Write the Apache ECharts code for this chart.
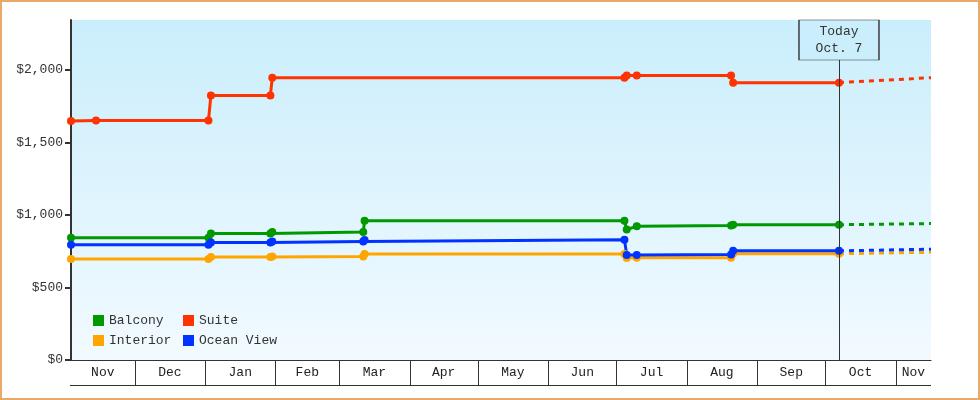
<!DOCTYPE html>
<html><head><meta charset="utf-8">
<script src="https://cdn.jsdelivr.net/npm/echarts@6/dist/echarts.min.js"></script>
<style>
html,body{margin:0;padding:0;background:#fff;}
#wrap{position:relative;width:980px;height:400px;}
#chart{position:absolute;left:0;top:0;width:980px;height:400px;}
#frame{position:absolute;left:0;top:0;width:980px;height:400px;box-sizing:border-box;border:2px solid #e8aa6a;pointer-events:none;}
</style></head><body>
<div id="wrap"><div id="chart"></div><div id="frame"></div></div>
<script>
// ---- data ----
const obsTimes = ['2022-11-03 00:00', '2022-11-14 00:00', '2023-01-02 12:00', '2023-01-03 14:00', '2023-01-29 18:00', '2023-01-30 14:00', '2023-03-11 15:00', '2023-03-12 05:00', '2023-07-04 14:00', '2023-07-05 14:00', '2023-07-10 00:00', '2023-08-20 12:00', '2023-08-21 10:00', '2023-10-07 00:00'];
const balcony   = [843, null, 843, 872, 872, 883, 883, 961, 961, 900, 922, 928, 933, 933];
const suite     = [1648, 1652, 1652, 1825, 1825, 1947, null, null, 1947, 1963, 1963, 1963, 1913, 1913];
const interior  = [697, null, 697, 710, 710, 714, 714, 731, 731, 703, 705, 705, 733, 733];
const oceanView = [795, null, 795, 811, 811, 818, 818, 828, 829, 725, 725, 727, 753, 753];
const forecastTimes = ['2023-10-07 00:00', '2023-11-16 12:00'];
const balconyForecast   = [933, 941];
const suiteForecast     = [1913, 1947];
const interiorForecast  = [733, 743];
const oceanViewForecast = [753, 764];
const monthStarts = ['2022-11-01', '2022-12-01', '2023-01-01', '2023-02-01', '2023-03-01', '2023-04-01', '2023-05-01', '2023-06-01', '2023-07-01', '2023-08-01', '2023-09-01', '2023-10-01', '2023-11-01', '2023-12-01'];
const monthLabels = ['Nov', 'Dec', 'Jan', 'Feb', 'Mar', 'Apr', 'May', 'Jun', 'Jul', 'Aug', 'Sep', 'Oct', 'Nov'];
const yTicks = [0, 500, 1000, 1500, 2000];
const xMin = '2022-11-03 00:00';
const xMax = '2023-11-16 12:00';
const yMax = 2345;
const todayDate = '2023-10-07 00:00';
const todayText = 'Today\nOct. 7';

// ---- chart ----
const FONT = '"Liberation Mono", "DejaVu Sans Mono", monospace';
const colors = {Balcony: '#009900', Suite: '#ff3300', Interior: '#ffa500', 'Ocean View': '#0033ff'};

function pairs(times, vals) {
  const out = [];
  vals.forEach((v, i) => { if (v !== null) out.push([times[i], v]); });
  return out;
}
function mainSeries(name, vals, z) {
  return {
    name, type: 'line', data: pairs(obsTimes, vals), z,
    symbol: 'circle', symbolSize: 8, showSymbol: true,
    lineStyle: {width: 3, color: colors[name]},
    itemStyle: {color: colors[name]},
    emphasis: {disabled: true}
  };
}
function forecastSeries(name, vals, z) {
  return {
    name, type: 'line', data: pairs(forecastTimes, vals), z,
    symbol: 'none', showSymbol: false,
    lineStyle: {width: 3, color: colors[name], type: [5, 5]},
    itemStyle: {color: colors[name]},
    emphasis: {disabled: true}
  };
}

const monthData = monthLabels.map((l, i) => [monthStarts[i], monthStarts[i + 1], 0, i]);

const chart = echarts.init(document.getElementById('chart'), null, {renderer: 'canvas'});
const option = {
  animation: false,
  grid: {
    left: 71, right: 49, top: 20, bottom: 40, show: true, borderWidth: 0,
    backgroundColor: {type: 'linear', x: 0, y: 0, x2: 0, y2: 1,
      colorStops: [{offset: 0, color: '#caeefc'}, {offset: 1, color: '#f2faff'}]}
  },
  legend: [
    {data: ['Balcony', 'Interior'], orient: 'vertical', left: 93, top: 314, padding: 0,
     itemWidth: 11, itemHeight: 11, itemGap: 7, icon: 'rect', selectedMode: false,
     textStyle: {fontFamily: FONT, fontSize: 13, color: '#333', lineHeight: 13}},
    {data: ['Suite', 'Ocean View'], orient: 'vertical', left: 183, top: 314, padding: 0,
     itemWidth: 11, itemHeight: 11, itemGap: 7, icon: 'rect', selectedMode: false,
     textStyle: {fontFamily: FONT, fontSize: 13, color: '#333', lineHeight: 13}}
  ],
  xAxis: {
    type: 'time', min: xMin, max: xMax,
    axisLine: {show: true, onZero: false, lineStyle: {color: '#333', width: 1}},
    axisTick: {show: false}, axisLabel: {show: false}, splitLine: {show: false}
  },
  yAxis: {
    type: 'value', min: 0, max: yMax, interval: 500,
    splitLine: {show: false},
    axisLine: {show: true, lineStyle: {color: '#333', width: 2}},
    axisTick: {show: true, length: 6, lineStyle: {color: '#333', width: 2}, customValues: yTicks},
    axisLabel: {customValues: yTicks, margin: 8, color: '#333', fontFamily: FONT, fontSize: 13,
      formatter: v => '$' + Number(v).toLocaleString('en-US')}
  },
  series: [
    {
      name: 'months', type: 'custom', clip: false, silent: true, z: 5,
      data: monthData, encode: {x: [0, 1], y: 2},
      renderItem(params, api) {
        const cs = params.coordSys;
        const s = api.coord([api.value(0), 0]);
        const e = api.coord([api.value(1), 0]);
        const y0 = Math.round(s[1]);
        const x0 = Math.max(s[0], cs.x), x1 = Math.min(e[0], cs.x + cs.width);
        const idx = api.value(3);
        const children = [];
        if (s[0] > cs.x + 1) {
          const xs = Math.round(s[0]) + 0.5;
          children.push({type: 'line', shape: {x1: xs, y1: y0, x2: xs, y2: y0 + 25},
            style: {stroke: '#333', lineWidth: 1}});
        }
        children.push({type: 'line', shape: {x1: Math.round(x0) - (idx === 0 ? 1 : 0), y1: y0 + 25.5, x2: Math.round(x1), y2: y0 + 25.5},
          style: {stroke: '#333', lineWidth: 1}});
        children.push({type: 'text', x: (x0 + x1) / 2, y: y0 + 13,
          style: {text: monthLabels[idx], fill: '#222', font: '13px ' + FONT, align: 'center', verticalAlign: 'middle'}});
        return {type: 'group', children};
      }
    },
    {
      name: 'today', type: 'line', data: [], z: 1, silent: true,
      markLine: {
        silent: true, symbol: ['none', 'none'], label: {show: false},
        lineStyle: {color: '#333', width: 1, type: 'solid'},
        data: [{xAxis: todayDate}]
      }
    },
    forecastSeries('Balcony', balconyForecast, 3),
    forecastSeries('Interior', interiorForecast, 3),
    forecastSeries('Ocean View', oceanViewForecast, 3),
    forecastSeries('Suite', suiteForecast, 3),
    mainSeries('Balcony', balcony, 4),
    mainSeries('Suite', suite, 4),
    mainSeries('Interior', interior, 4),
    mainSeries('Ocean View', oceanView, 4),
    {
      name: 'todayBox', type: 'line', data: [], z: 10, silent: true,
      markPoint: {
        silent: true,
        data: [{
          coord: [todayDate, yMax], symbol: 'rect', symbolSize: [80, 40], symbolOffset: [0, 20],
          itemStyle: {color: '#caeefc', borderColor: '#333', borderWidth: 1},
          label: {show: true, position: 'inside', formatter: todayText, color: '#333',
            fontFamily: FONT, fontSize: 13, lineHeight: 17}
        }]
      }
    }
  ]
};
chart.setOption(option);
</script>
</body></html>
